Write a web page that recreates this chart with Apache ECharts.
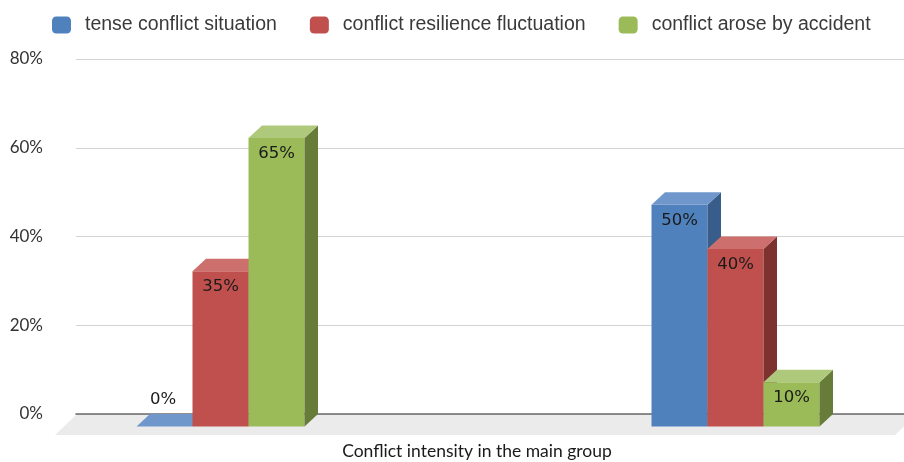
<!DOCTYPE html>
<html>
<head>
<meta charset="utf-8">
<script src="https://cdn.jsdelivr.net/npm/echarts@6/dist/echarts.min.js"></script>
<style>
  html, body { margin: 0; padding: 0; background: #ffffff; }
  #chart { width: 904px; height: 462px; }
</style>
</head>
<body>
<div id="chart"></div>
<script>
// Two groups, three series, values in percent
const categories = ['I', 'II'];
const seriesNames = ['tense conflict situation', 'conflict resilience fluctuation', 'conflict arose by accident'];
const tenseValues = [0, 50];
const resilienceValues = [35, 40];
const accidentValues = [65, 10];
const yTicks = { min: 0, max: 80, interval: 20 };
const axisTitle = 'Conflict intensity in the main group';

// Box shading: front, top, side
const palettes = [
  { front: '#4F81BD', top: '#6F97CB', side: '#385D8A' },
  { front: '#C0504D', top: '#CD6F6C', side: '#7E3230' },
  { front: '#9BBB59', top: '#AFC97C', side: '#677C39' }
];

// Depth of each box (back plane -> front plane) and front face width
const DEPTH_X = 13.5;
const DEPTH_Y = 12.5;
const BAR_W = 56;
// Floor depth below the back wall
const FLOOR_DX = 21;
const FLOOR_DY = 20;

function boxRenderer(slot, pal) {
  return function (params, api) {
    const cat = api.value(0);
    const val = api.value(1);
    const base = api.coord([cat, 0]);
    const top = api.coord([cat, val]);
    const x0 = base[0] - DEPTH_X - 1.5 * BAR_W + slot * BAR_W;
    const x1 = x0 + BAR_W;
    const yB = base[1] + DEPTH_Y;
    const yT = top[1] + DEPTH_Y;
    const children = [];
    if (yB - yT > 0.5) {
      children.push({
        type: 'rect',
        shape: { x: x0, y: yT, width: BAR_W, height: yB - yT },
        style: { fill: pal.front }
      });
      children.push({
        type: 'polygon',
        shape: { points: [[x1, yT], [x1 + DEPTH_X, yT - DEPTH_Y], [x1 + DEPTH_X, yB - DEPTH_Y], [x1, yB]] },
        style: { fill: pal.side }
      });
    }
    children.push({
      type: 'polygon',
      shape: { points: [[x0, yT], [x1, yT], [x1 + DEPTH_X, yT - DEPTH_Y], [x0 + DEPTH_X, yT - DEPTH_Y]] },
      style: { fill: pal.top }
    });
    const inside = yB - yT > 30;
    children.push({
      type: 'text',
      style: {
        text: val + '%',
        x: (x0 + x1) / 2 + (inside ? 0 : -1.5),
        y: inside ? yT + 16 : yT - DEPTH_Y - 14,
        align: 'center',
        verticalAlign: 'middle',
        fill: '#1a1a1a',
        font: '16.5px "DejaVu Sans"'
      }
    });
    return { type: 'group', children: children };
  };
}

function floorRenderer(params, api) {
  const cs = params.coordSys;
  const y0 = api.coord([0, 0])[1] + 1;
  const xl = cs.x;
  const xr = cs.x + cs.width + 12;
  return {
    type: 'polygon',
    shape: { points: [[xl, y0], [xr, y0], [xr - FLOOR_DX, y0 + FLOOR_DY], [xl - FLOOR_DX, y0 + FLOOR_DY]] },
    style: { fill: '#EBEBEB' }
  };
}

const valueSets = [tenseValues, resilienceValues, accidentValues];

const boxSeries = seriesNames.map(function (name, i) {
  return {
    name: name,
    type: 'custom',
    xAxisIndex: 1,
    yAxisIndex: 1,
    itemStyle: { color: palettes[i].front },
    renderItem: boxRenderer(i, palettes[i]),
    encode: { x: 0, y: 1 },
    data: valueSets[i].map(function (v, c) { return [c, v]; }),
    clip: false
  };
});

const chart = echarts.init(document.getElementById('chart'), null, { renderer: 'canvas' });

chart.setOption({
  animation: false,
  backgroundColor: '#ffffff',
  legend: {
    data: seriesNames,
    left: 52,
    top: 15,
    padding: 0,
    itemWidth: 19,
    itemHeight: 17,
    itemGap: 33,
    icon: 'roundRect',
    textStyle: {
      fontFamily: '"Liberation Sans"',
      fontSize: 19.5,
      color: '#3a3a3a',
      padding: [0, 0, 0, 9]
    }
  },
  graphic: [{
    type: 'text',
    x: 477,
    y: 451,
    style: {
      text: axisTitle,
      align: 'center',
      verticalAlign: 'middle',
      font: '17.5px Lato',
      fill: '#1a1a1a'
    }
  }],
  grid: [
    { left: 76, right: 0, top: 59, bottom: 48 },
    { left: 234, right: 155, top: 59, bottom: 48 }
  ],
  xAxis: [
    {
      gridIndex: 0,
      type: 'category',
      data: categories,
      axisLine: { show: true, lineStyle: { color: '#6b6b6b', width: 1.6 } },
      axisTick: { show: false },
      axisLabel: { show: false }
    },
    {
      gridIndex: 1,
      type: 'category',
      data: categories,
      boundaryGap: false,
      axisLine: { show: false },
      axisTick: { show: false },
      axisLabel: { show: false }
    }
  ],
  yAxis: [
    {
      gridIndex: 0,
      type: 'value',
      min: yTicks.min,
      max: yTicks.max,
      interval: yTicks.interval,
      axisLine: { show: false },
      axisTick: { show: false },
      splitLine: { lineStyle: { color: '#d3d3d3', width: 1 } },
      axisLabel: {
        formatter: '{value}%',
        margin: 33,
        fontFamily: 'Lato',
        fontSize: 17,
        color: '#333333'
      }
    },
    {
      gridIndex: 1,
      type: 'value',
      min: yTicks.min,
      max: yTicks.max,
      interval: yTicks.interval,
      show: false,
      splitLine: { show: false }
    }
  ],
  series: [
    {
      name: 'floor',
      type: 'custom',
      xAxisIndex: 0,
      yAxisIndex: 0,
      silent: true,
      renderItem: floorRenderer,
      data: [[0, 0]],
      clip: false
    }
  ].concat(boxSeries)
});
</script>
</body>
</html>
